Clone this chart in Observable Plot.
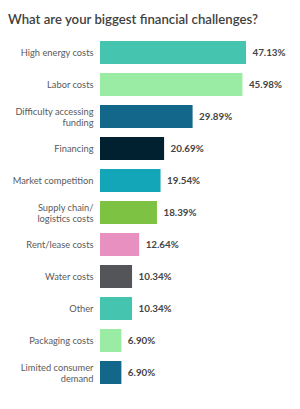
<!DOCTYPE html>
<html>
<head>
<meta charset="utf-8">
<script src="https://cdn.jsdelivr.net/npm/d3@7"></script>
<script src="https://cdn.jsdelivr.net/npm/@observablehq/plot@0.6"></script>
<style>
  html, body { margin: 0; padding: 0; background: #fff; }
  body { width: 300px; height: 409px; overflow: hidden; font-family: Lato, "Open Sans", sans-serif; }
  #title { height: 32px; box-sizing: border-box; padding: 11px 0 0 8px; font-size: 13.2px; font-weight: 600; color: #3f3f3f; line-height: 16px; white-space: nowrap; }
  #chart svg { display: block; }
</style>
</head>
<body>
<div id="title">What are your biggest financial challenges?</div>
<div id="chart"></div>
<script>
// Survey responses: share of respondents naming each challenge
const categories = [
  "High energy costs",
  "Labor costs",
  "Difficulty accessing\nfunding",
  "Financing",
  "Market competition",
  "Supply chain/\nlogistics costs",
  "Rent/lease costs",
  "Water costs",
  "Other",
  "Packaging costs",
  "Limited consumer\ndemand"
];
const values = [47.13, 45.98, 29.89, 20.69, 19.54, 18.39, 12.64, 10.34, 10.34, 6.90, 6.90];
const palette = [
  "#45c4b0", "#9aeba3", "#13678a", "#012030", "#12a6b8", "#7dc242",
  "#e891c0", "#545558", "#45c4b0", "#9aeba3", "#13678a"
];

const rows = categories.map((c, i) => ({category: c, value: values[i]}));

const chart = Plot.plot({
  width: 300,
  height: 377,
  marginLeft: 100,
  marginRight: 54,
  marginTop: 2,
  marginBottom: 17,
  style: {fontFamily: "Lato, 'Open Sans', sans-serif", background: "#fff"},
  x: {domain: [0, 47.13], axis: null},
  y: {domain: categories, paddingInner: 0.28, paddingOuter: 0.14, label: null},
  color: {domain: categories, range: palette},
  marks: [
    Plot.barX(rows, {x: "value", y: "category", fill: "category"}),
    Plot.axisY({tickSize: 0, tickPadding: 7, fontSize: 9.3, color: "#5a5a5a", lineHeight: 1.12}),
    Plot.text(rows, {
      x: "value", y: "category",
      text: d => d.value.toFixed(2) + "%",
      textAnchor: "start", dx: 6,
      fontSize: 9.8, fontWeight: "bold", fill: "#444"
    })
  ]
});
document.getElementById("chart").append(chart);
</script>
</body>
</html>
